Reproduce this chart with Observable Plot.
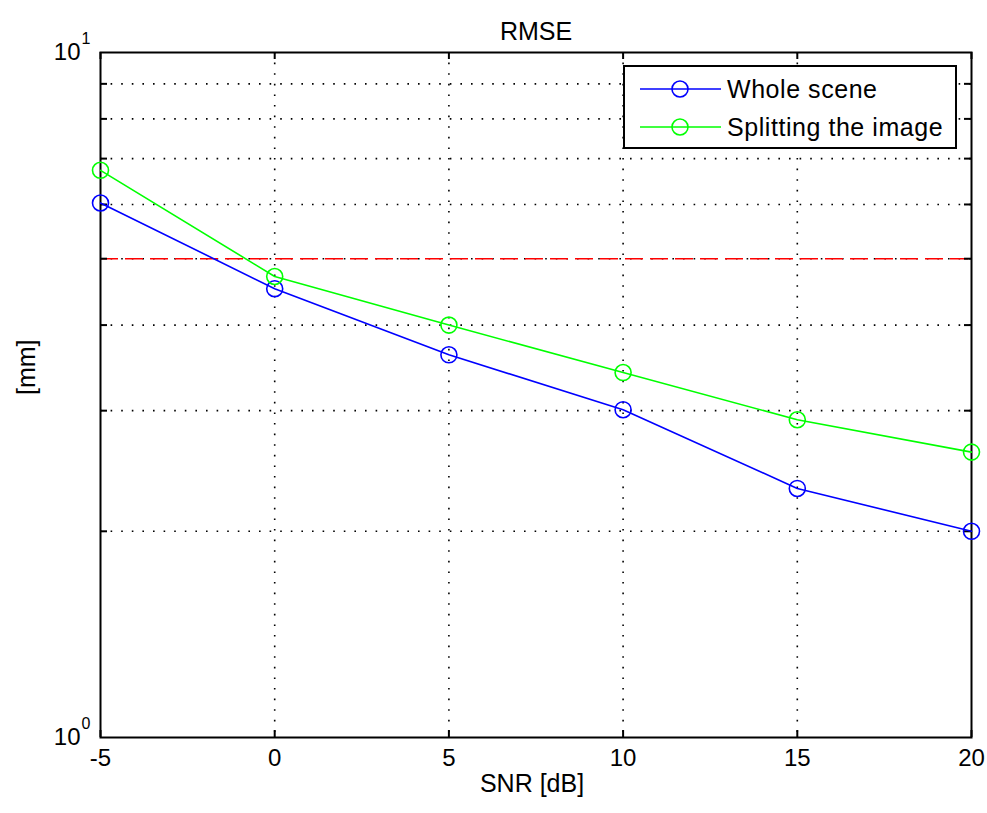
<!DOCTYPE html>
<html>
<head>
<meta charset="utf-8">
<script src="https://cdn.jsdelivr.net/npm/d3@7"></script>
<script src="https://cdn.jsdelivr.net/npm/@observablehq/plot@0.6"></script>
<style>
  html, body { margin: 0; padding: 0; background: #fff; overflow: hidden; }
  #wrap { position: relative; width: 987px; height: 813px; }
  #legend { position: absolute; left: 623px; top: 65px; }
</style>
</head>
<body>
<div id="wrap"></div>
<script>
// ---- data ----
const snr = [-5, 0, 5, 10, 15, 20];
const wholeScene = [6.03, 4.52, 3.62, 3.01, 2.31, 2.00];
const splitting = [6.73, 4.71, 4.00, 3.41, 2.91, 2.61];
const seriesNames = ["Whole scene", "Splitting the image"];
const seriesColors = ["#0000ff", "#00ff00"];
const xTicks = [-5, 0, 5, 10, 15, 20];
const xGrid = [0, 5, 10, 15];
const yMajor = [1, 10];
const yMajorBase = ["10", "10"];
const yMajorExp = ["0", "1"];
const yMinor = [2, 3, 4, 5, 6, 7, 8, 9];
const threshold = [5];
const titleText = "RMSE";
const xLabel = "SNR [dB]";
const yLabel = "[mm]";

const rows = [];
snr.forEach((s, i) => {
  rows.push({snr: s, v: wholeScene[i], series: seriesNames[0]});
  rows.push({snr: s, v: splitting[i], series: seriesNames[1]});
});

const font = "Arial, 'Liberation Sans', Helvetica, sans-serif";
const W = 987, H = 813;
const mL = 100, mR = 16, mT = 52, mB = 76;
const fw = W - mL - mR, fh = H - mT - mB;
const tl = 7;

const dotted = {stroke: "#000", strokeWidth: 1.6, strokeDasharray: "1.6,9"};

const chart = Plot.plot({
  width: W, height: H,
  marginLeft: mL, marginRight: mR, marginTop: mT, marginBottom: mB,
  style: {fontFamily: font, fontSize: "24px", color: "#000", background: "#fff"},
  x: {domain: [-5, 20]},
  y: {type: "log", domain: [1, 10], axis: null},
  color: {domain: seriesNames, range: seriesColors},
  marks: [
    Plot.ruleX(xGrid, {x: d => d, ...dotted}),
    Plot.ruleY(yMinor, {y: d => d, ...dotted}),
    Plot.ruleY(threshold, {y: d => d, stroke: "#ff0000", strokeWidth: 1.6, strokeDasharray: "18,7"}),
    Plot.frame({stroke: "#000", strokeWidth: 2}),
    // inward ticks
    Plot.tickX(xTicks, {x: d => d, insetTop: fh - tl, stroke: "#000", strokeWidth: 2}),
    Plot.tickX(xTicks, {x: d => d, insetBottom: fh - tl, stroke: "#000", strokeWidth: 2}),
    Plot.tickY(yMinor, {y: d => d, insetRight: fw - tl, stroke: "#000", strokeWidth: 2}),
    Plot.tickY(yMinor, {y: d => d, insetLeft: fw - tl, stroke: "#000", strokeWidth: 2}),
    Plot.axisX({ticks: xTicks, tickSize: 0, tickPadding: 11, label: null, fontSize: 24, tickFormat: d => String(d)}),
    // y tick labels 10^n
    Plot.text(yMajor, {y: d => d, frameAnchor: "left", text: (d, i) => yMajorBase[i], textAnchor: "end", dx: -20, fontSize: 24}),
    Plot.text(yMajor, {y: d => d, frameAnchor: "left", text: (d, i) => yMajorExp[i], textAnchor: "start", dx: -19, dy: -14, fontSize: 16}),
    // data
    Plot.line(rows, {x: "snr", y: "v", z: "series", stroke: "series", strokeWidth: 1.6}),
    Plot.dot(rows, {x: "snr", y: "v", stroke: "series", fill: "none", r: 8, strokeWidth: 1.6}),
    // titles
    Plot.text([titleText], {frameAnchor: "top", dy: -30, fontSize: 25}),
    Plot.text([xLabel], {frameAnchor: "bottom", dy: 54, dx: -4, fontSize: 25}),
    Plot.text([yLabel], {frameAnchor: "left", dx: -74, rotate: -90, fontSize: 25})
  ]
});

const wrap = document.getElementById("wrap");
wrap.appendChild(chart);

// legend
const lw = 334, lh = 84;
const leg = d3.create("svg").attr("id", "legend").attr("width", lw).attr("height", lh)
  .style("font-family", font);
leg.append("rect").attr("x", 1).attr("y", 1).attr("width", lw - 2).attr("height", lh - 2)
  .attr("fill", "#fff").attr("stroke", "#000").attr("stroke-width", 2);
const rowY = [24, 62];
seriesNames.forEach((name, i) => {
  const g = leg.append("g").attr("transform", `translate(0,${rowY[i]})`);
  g.append("line").attr("x1", 17).attr("x2", 98).attr("y1", 0).attr("y2", 0)
    .attr("stroke", seriesColors[i]).attr("stroke-width", 1.6);
  g.append("circle").attr("cx", 57).attr("cy", 0).attr("r", 8)
    .attr("fill", "none").attr("stroke", seriesColors[i]).attr("stroke-width", 1.6);
  g.append("text").attr("x", 104).attr("y", 0).attr("dy", "0.35em")
    .attr("font-size", 25).attr("letter-spacing", "0.55px").attr("fill", "#000").text(name);
});
wrap.appendChild(leg.node());
</script>
</body>
</html>
